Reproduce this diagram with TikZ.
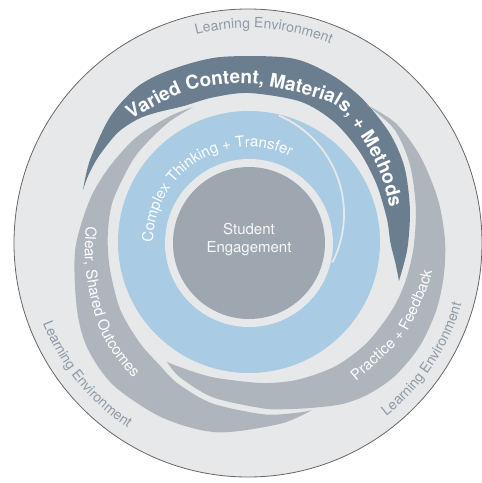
\documentclass[tikz,border=0pt]{standalone}
\usepackage{fontspec}
\setmainfont{TeX Gyre Heros}
\usetikzlibrary{decorations.text}

\definecolor{ringgray}{HTML}{E7E8E9}
\definecolor{envgray}{HTML}{8E9AA8}
\definecolor{slatearm}{HTML}{6B7E8F}
\definecolor{greyarm}{HTML}{AEB5BD}
\definecolor{skyring}{HTML}{A9CBE3}
\definecolor{coregray}{HTML}{9EA7B0}

\newcommand{\envfont}{\fontsize{14}{16}\selectfont\color{envgray}}
\newcommand{\armfont}{\fontsize{15}{18}\selectfont\color{white}}
\newcommand{\boldarmfont}{\fontsize{19}{22}\selectfont\bfseries\color{white}}

\begin{document}
\begin{tikzpicture}[x=1pt,y=-1pt,
  arm/.style={fill=#1,draw=none},
  onpath/.style={decorate,decoration={text along path,text align=center,text={#1}}}]
\useasboundingbox (0,0) rectangle (482,483);

%Shape: Circle [outer learning environment]
\draw[draw=black!60,line width=0.8,fill=ringgray] (248,243) circle [radius=234];

\begin{scope}[shift={(249,243)}]
%Shape: Circle [complex thinking ring]
\fill[skyring] (0,-1) circle [radius=131];
%Shape: Arc [crescent line]
\draw[ringgray,line width=1.8] (-12,-29) ++(-67:107) arc [start angle=-67,end angle=27,radius=107];
%Shape: Circle [gap + core]
\fill[ringgray] (0,0) circle [radius=84];
\fill[coregray] (0,0) circle [radius=76];

%Shape: Swirl [varied content]
\path[arm=slatearm] plot[smooth] coordinates {(197.7:174.3) (207.6:179.4) (222.2:187.6) (234.3:192) (245.5:190.2) (261.1:188.2) (282.5:189.5) (295.6:187.4) (308:183.5) (322:178.5) (334:173) (348:164.5) (362:158.5) (374.2:154.7)}
  -- plot[smooth] coordinates {(374.2:154.7) (368:148) (360:141.5) (350:140) (335:140.5) (320:143.5) (305:148) (290:150.5) (270:150) (256:150) (244:152) (234.6:160) (228:166.5) (220:171.5) (210:173.5) (203:174.3) (197.7:174.3)} -- cycle;
%Shape: Swirl [clear outcomes]
\path[arm=greyarm] plot[smooth] coordinates {(247.6:147) (238:149.5) (223.4:154.5) (208.7:159) (195.1:165) (177.7:174) (158.7:184.6) (146.6:193) (133.4:196.5) (116.3:195) (99.6:192) (80.2:183.5) (69.3:178.5)}
  -- plot[smooth] coordinates {(69.3:178.5) (74:176.5) (85:172) (103:164.5) (117:157.5) (126:151.5) (137.5:148) (152.6:145) (170:141.5) (184:141.5) (197.5:142.5) (215.6:142.8) (227.8:143.5) (238:145.3) (247.6:147)} -- cycle;
%Shape: Swirl [practice feedback]
\path[arm=greyarm] plot[smooth] coordinates {(310.5:181.6) (320.9:189.5) (333.3:192) (347.1:194) (359.1:196) (369.4:197.5) (379.5:199) (390.9:199.5) (402.2:197.5) (412:192.5) (420:186) (428.5:177) (437:170.5) (445.2:166) (463.2:158.5) (477.2:151) (484.6:144.5)}
  -- plot[smooth] coordinates {(484.6:144.5) (479:142) (465:139) (445:140.5) (430.7:145) (415:150.5) (400:154.5) (385:158) (374:161) (362:164.5) (348:170.5) (334:179) (322:184.5) (310.5:181.6)} -- cycle;

% Text Path
\path[onpath={|\envfont|Learning Environment}] (-146:215) arc [start angle=-146,end angle=-26,radius=215];
% Text Path
\path[onpath={|\envfont|Learning Environment}] (201:221) arc [start angle=201,end angle=81,radius=221];
% Text Path
\path[onpath={|\envfont|Learning Environment}] (93.8:221) arc [start angle=93.8,end angle=-26.2,radius=221];
% Text Path
\path[onpath={|\armfont|Complex Thinking + Transfer}] (147.8:96) arc [start angle=147.8,end angle=327.8,radius=96];
\end{scope}

% Text Path
\path[decorate,decoration={text along path,text={|\boldarmfont|Varied Content, Materials, + Methods}}] plot[smooth] coordinates {(131,120) (187,91) (253,84) (333,104) (362,139) (380,173) (391,212) (394,240)};
% Text Path
\path[decorate,decoration={text along path,text={|\armfont|Clear, Shared Outcomes}}] plot[smooth] coordinates {(86,226) (85,260) (90,295) (100,330) (116,358) (137,382) (152,394)};
% Text Path
\path[decorate,decoration={text along path,text={|\armfont|Practice + Feedback}}] plot[smooth] coordinates {(356,381) (380,360) (405,335) (420,305) (430,280) (434,258) (436,238)};

% Text Node
\node[font=\fontsize{15}{18}\selectfont,text=white!92!coregray,align=center] (core) at (249,240) {Student\\Engagement};

\end{tikzpicture}
\end{document}
